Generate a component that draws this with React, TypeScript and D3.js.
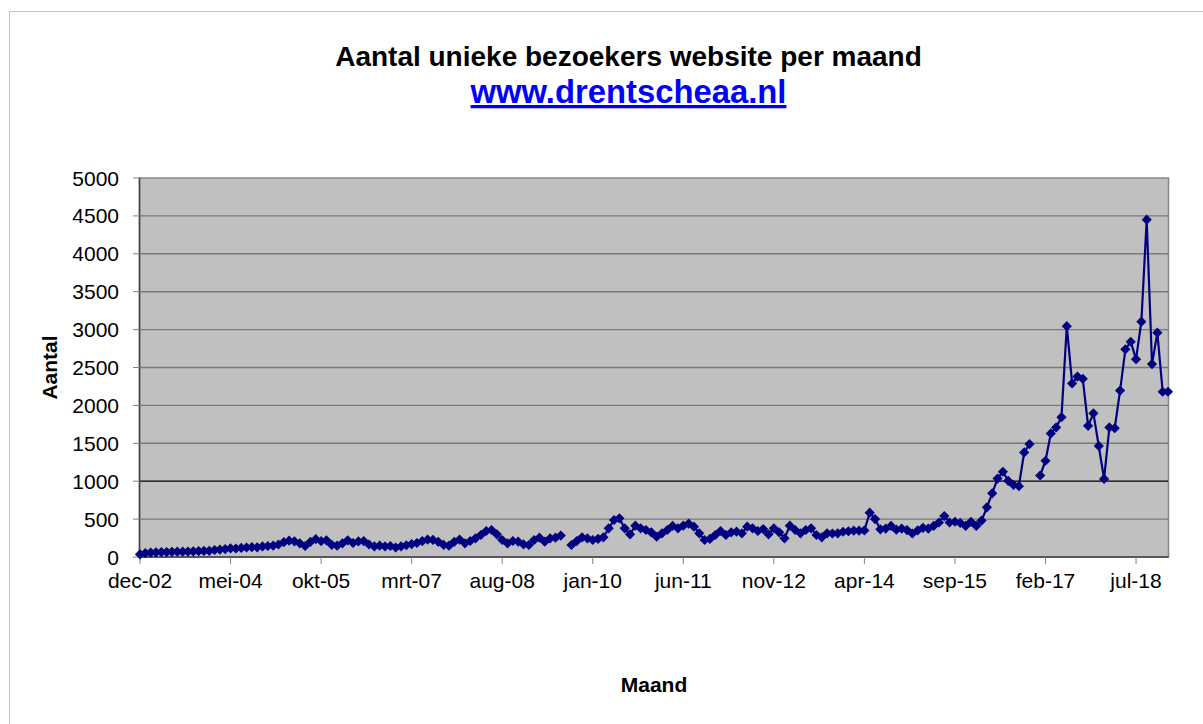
import React, { useEffect, useRef } from "react";
import * as d3 from "d3";

// monthly unique visitors, one array per year (dec-02 .. jan-19), null = no data
const y2002 = [35];
const y2003 = [50, 58, 62, 65, 65, 68, 70, 70, 72, 75, 78, 80];
const y2004 = [82, 92, 98, 105, 115, 112, 120, 125, 130, 128, 140, 145];
const y2005 = [150, 165, 195, 215, 205, 180, 145, 200, 235, 210, 220, 160];
const y2006 = [150, 180, 220, 185, 205, 210, 165, 140, 150, 140, 145, 125];
const y2007 = [140, 155, 170, 185, 210, 230, 225, 200, 160, 150, 200, 230];
const y2008 = [180, 211, 246, 290, 343, 356, 299, 224, 180, 211, 202, 167];
const y2009 = [158, 224, 255, 202, 246, 255, 282, null, 158, 210, 259, 245];
const y2010 = [224, 240, 259, 378, 488, 510, 378, 299, 413, 378, 356, 325];
const y2011 = [268, 312, 356, 410, 378, 413, 440, 400, 312, 224, 238, 290];
const y2012 = [343, 290, 325, 334, 312, 400, 378, 343, 369, 299, 378, 325];
const y2013 = [246, 413, 356, 312, 356, 378, 290, 259, 312, 310, 312, 333];
const y2014 = [340, 347, 347, 350, 585, 500, 365, 375, 410, 360, 375, 355];
const y2015 = [310, 350, 385, 375, 410, 455, 540, 455, 465, 450, 410, 465];
const y2016 = [410, 480, 655, 840, 1035, 1125, 1005, 950, 935, 1380, 1490, null];
const y2017 = [1075, 1270, 1630, 1710, 1845, 3045, 2290, 2380, 2350, 1730, 1895, 1465];
const y2018 = [1030, 1710, 1700, 2195, 2740, 2840, 2610, 3105, 4450, 2545, 2960, 2180];
const y2019 = [2180];

const visitors: (number | null)[] = [
  ...y2002, ...y2003, ...y2004, ...y2005, ...y2006, ...y2007, ...y2008, ...y2009,
  ...y2010, ...y2011, ...y2012, ...y2013, ...y2014, ...y2015, ...y2016, ...y2017,
  ...y2018, ...y2019
];

const monthNames = ["jan", "feb", "mrt", "apr", "mei", "jun", "jul", "aug", "sep", "okt", "nov", "dec"];
const xTickLabels = ["dec-02", "mei-04", "okt-05", "mrt-07", "aug-08", "jan-10", "jun-11", "nov-12", "apr-14", "sep-15", "feb-17", "jul-18"];
const yTicks = [0, 500, 1000, 1500, 2000, 2500, 3000, 3500, 4000, 4500, 5000];

// category labels, starting at december 2002
const months = visitors.map((_, i) => {
  const m = (11 + i) % 12;
  const yr = 2002 + Math.floor((11 + i) / 12);
  return `${monthNames[m]}-${String(yr % 100).padStart(2, "0")}`;
});

const FONT = "'Liberation Sans', Arial, sans-serif";

export default function App() {
  const ref = useRef<SVGSVGElement>(null);

  useEffect(() => {
    const svg = d3.select(ref.current);
    svg.selectAll("*").remove();

    const plot = { left: 140, right: 1168, top: 178, bottom: 557 };

    const x = d3.scalePoint<string>().domain(months).range([plot.left, plot.right]);
    const y = d3.scaleLinear().domain([0, 5000]).range([plot.bottom, plot.top]);

    // chart frame
    svg
      .append("rect")
      .attr("x", 9.5)
      .attr("y", 11.5)
      .attr("width", 1210)
      .attr("height", 730)
      .attr("fill", "#fff")
      .attr("stroke", "#c4c4c4");

    // plot area
    svg
      .append("rect")
      .attr("x", plot.left - 0.5)
      .attr("y", plot.top)
      .attr("width", plot.right - plot.left + 1)
      .attr("height", plot.bottom - plot.top)
      .attr("fill", "#c0c0c0")
      .attr("stroke", "#868686")
      .attr("stroke-width", 1.5);

    // gridlines
    svg
      .append("g")
      .selectAll("line")
      .data(yTicks.filter(d => d > 0 && d < 5000))
      .enter()
      .append("line")
      .attr("x1", plot.left)
      .attr("x2", plot.right)
      .attr("y1", d => y(d))
      .attr("y2", d => y(d))
      .attr("stroke", d => (d === 1000 ? "#000" : "#7a7a7a"))
      .attr("stroke-width", d => (d === 1000 ? 1.2 : 1.4));

    // axes lines
    svg
      .append("line")
      .attr("x1", plot.left - 0.5)
      .attr("x2", plot.left - 0.5)
      .attr("y1", plot.top)
      .attr("y2", plot.bottom)
      .attr("stroke", "#404040")
      .attr("stroke-width", 1.5);
    svg
      .append("line")
      .attr("x1", plot.left - 0.5)
      .attr("x2", plot.right + 0.5)
      .attr("y1", plot.bottom)
      .attr("y2", plot.bottom)
      .attr("stroke", "#404040")
      .attr("stroke-width", 1.5);

    // y ticks + labels
    const yAxis = svg.append("g");
    yAxis
      .selectAll("line")
      .data(yTicks)
      .enter()
      .append("line")
      .attr("x1", plot.left - 7)
      .attr("x2", plot.left)
      .attr("y1", d => y(d))
      .attr("y2", d => y(d))
      .attr("stroke", "#808080");
    yAxis
      .selectAll("text")
      .data(yTicks)
      .enter()
      .append("text")
      .attr("x", 119)
      .attr("y", d => y(d) + 7.5)
      .attr("text-anchor", "end")
      .attr("font-family", FONT)
      .attr("font-size", 21)
      .text(d => d);

    // x ticks + labels
    const xAxis = svg.append("g");
    xAxis
      .selectAll("line")
      .data(xTickLabels)
      .enter()
      .append("line")
      .attr("x1", d => x(d)!)
      .attr("x2", d => x(d)!)
      .attr("y1", plot.bottom)
      .attr("y2", plot.bottom + 7)
      .attr("stroke", "#808080");
    xAxis
      .selectAll("text")
      .data(xTickLabels)
      .enter()
      .append("text")
      .attr("x", d => x(d)!)
      .attr("y", 588)
      .attr("text-anchor", "middle")
      .attr("font-family", FONT)
      .attr("font-size", 21)
      .text(d => d);

    // series
    const line = d3
      .line<number | null>()
      .defined(d => d != null)
      .x((_, i) => x(months[i])!)
      .y(d => y(d as number));

    svg
      .append("path")
      .datum(visitors)
      .attr("d", line)
      .attr("fill", "none")
      .attr("stroke", "#000080")
      .attr("stroke-width", 2.2);

    const diamond = d3.symbol().type(d3.symbolSquare).size(52);
    svg
      .append("g")
      .selectAll("path")
      .data(visitors.map((v, i) => ({ v, m: months[i] })).filter(d => d.v != null))
      .enter()
      .append("path")
      .attr("d", diamond)
      .attr("transform", d => `translate(${x(d.m)},${y(d.v as number)}) rotate(45)`)
      .attr("fill", "#000080");

    // titles
    svg
      .append("text")
      .attr("x", 628.5)
      .attr("y", 66)
      .attr("text-anchor", "middle")
      .attr("font-family", FONT)
      .attr("font-weight", "bold")
      .attr("font-size", 28)
      .text("Aantal unieke bezoekers website per maand");

    svg
      .append("text")
      .attr("x", 628.5)
      .attr("y", 103)
      .attr("text-anchor", "middle")
      .attr("font-family", FONT)
      .attr("font-weight", "bold")
      .attr("font-size", 32.8)
      .attr("fill", "#0000ff")
      .attr("text-decoration", "underline")
      .text("www.drentscheaa.nl");

    svg
      .append("text")
      .attr("transform", `translate(57,${(plot.top + plot.bottom) / 2}) rotate(-90)`)
      .attr("text-anchor", "middle")
      .attr("font-family", FONT)
      .attr("font-weight", "bold")
      .attr("font-size", 21)
      .text("Aantal");

    svg
      .append("text")
      .attr("x", (plot.left + plot.right) / 2)
      .attr("y", 692)
      .attr("text-anchor", "middle")
      .attr("font-family", FONT)
      .attr("font-weight", "bold")
      .attr("font-size", 21)
      .text("Maand");
  }, []);

  return (
    <svg
      ref={ref}
      width={1203}
      height={724}
      style={{ position: "absolute", left: 0, top: 0, background: "#fff" }}
    />
  );
}
